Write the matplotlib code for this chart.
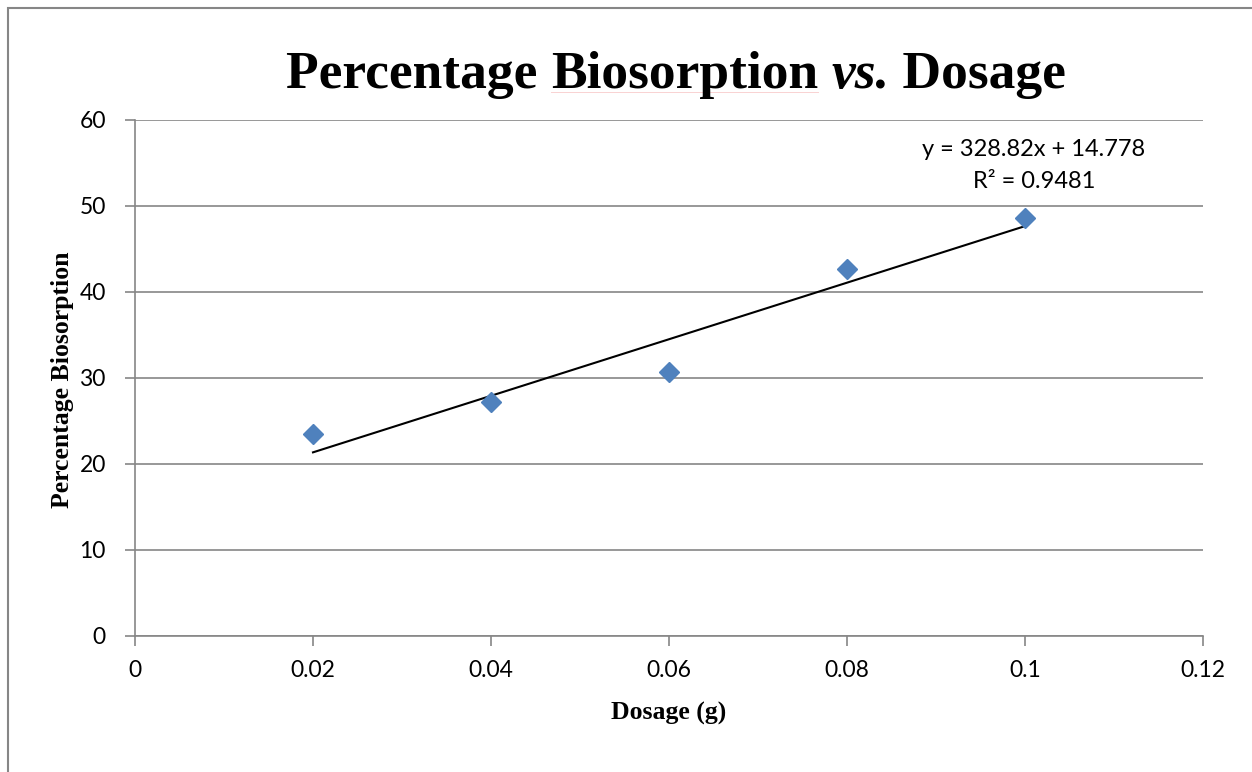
import matplotlib
matplotlib.use("Agg")
import matplotlib.pyplot as plt
from matplotlib.patches import Rectangle
from matplotlib.lines import Line2D

# data
dosage = [0.02, 0.04, 0.06, 0.08, 0.10]
biosorption = [23.5, 27.2, 30.7, 42.7, 48.6]
slope = 328.82
intercept = 14.778
r2 = 0.9481
x_ticks = [0, 0.02, 0.04, 0.06, 0.08, 0.1, 0.12]
x_ticklabels = ["0", "0.02", "0.04", "0.06", "0.08", "0.1", "0.12"]
y_ticks = [0, 10, 20, 30, 40, 50, 60]

GRID = "#868686"
BLUE = "#4F81BD"
SANS = ["Lato", "DejaVu Sans"]
SERIF = "Liberation Serif"
W, H = 1252, 772


def main():
    fig = plt.figure(figsize=(12.52, 7.72), dpi=100)
    # chart border (cut off at right and bottom)
    fig.patches.append(Rectangle((8 / W, -0.1), 1.2, 1.1 - 7.5 / H,
                                 transform=fig.transFigure, fill=False,
                                 edgecolor=GRID, linewidth=1.5))

    ax = fig.add_axes([135 / W, 1 - 636 / H, 1068 / W, 516 / H])
    ax.set_xlim(0, 0.12)
    ax.set_ylim(0, 60)
    ax.set_xticks(x_ticks)
    ax.set_xticklabels(x_ticklabels)
    ax.set_yticks(y_ticks)
    ax.grid(axis="y", color=GRID, linewidth=1.2)
    ax.set_axisbelow(True)
    for s in ["top", "right"]:
        ax.spines[s].set_visible(False)
    for s in ["left", "bottom"]:
        ax.spines[s].set_color(GRID)
        ax.spines[s].set_linewidth(1.2)
    ax.tick_params(axis="both", direction="out", length=7, width=1.2,
                   color=GRID, labelsize=16.5)
    ax.tick_params(axis="x", pad=10)
    ax.tick_params(axis="y", pad=14)
    for lab in ax.get_xticklabels() + ax.get_yticklabels():
        lab.set_family(SANS)

    # trendline
    fit_x = [dosage[0], dosage[-1]]
    fit_y = [slope * v + intercept for v in fit_x]
    ax.plot(fit_x, fit_y, color="black", linewidth=1.5, zorder=3)
    ax.plot(dosage, biosorption, linestyle="none", marker="D", markersize=10,
            color=BLUE, markeredgecolor=BLUE, zorder=4, clip_on=False)

    fig.text(1034 / W, 1 - 150 / H, "y = 328.82x + 14.778", ha="center",
             va="center", fontsize=17, family=SANS)
    fig.text(1034 / W, 1 - 181 / H, "R² = 0.9481", ha="center",
             va="center", fontsize=17, family=SANS)

    fig.text(669 / W, 1 - 713 / H, "Dosage (g)", fontsize=18.5,
             fontweight="bold", family=SERIF, ha="center", va="center")
    fig.text(62 / W, 1 - 380 / H, "Percentage Biosorption", fontsize=18.5,
             fontweight="bold", family=SERIF, ha="center", va="center",
             rotation=90)

    # title with italic "vs."
    parts = [("Percentage ", "normal"), ("Biosorption", "normal"), (" ", "normal"),
             ("vs.", "italic"), (" Dosage", "normal")]
    texts = []
    for s, st in parts:
        t = fig.text(0, 1 - 88 / H, s, fontsize=38.5, fontweight="bold",
                     style=st, family=SERIF, va="baseline", ha="left")
        texts.append(t)
    fig.canvas.draw()
    r = fig.canvas.get_renderer()
    widths = [t.get_window_extent(r).width for t in texts]
    x0 = 676 - sum(widths) / 2
    starts = []
    for t, w in zip(texts, widths):
        t.set_x(x0 / W)
        starts.append(x0)
        x0 += w
    # faint spell-check underline under "Biosorption"
    fig.lines.append(Line2D([starts[1] / W, (starts[1] + widths[1]) / W],
                            [1 - 92 / H, 1 - 92 / H], transform=fig.transFigure,
                            color="#f08080", linewidth=0.7, alpha=0.35))

    fig.savefig("out.png", dpi=100)


if __name__ == "__main__":
    main()
